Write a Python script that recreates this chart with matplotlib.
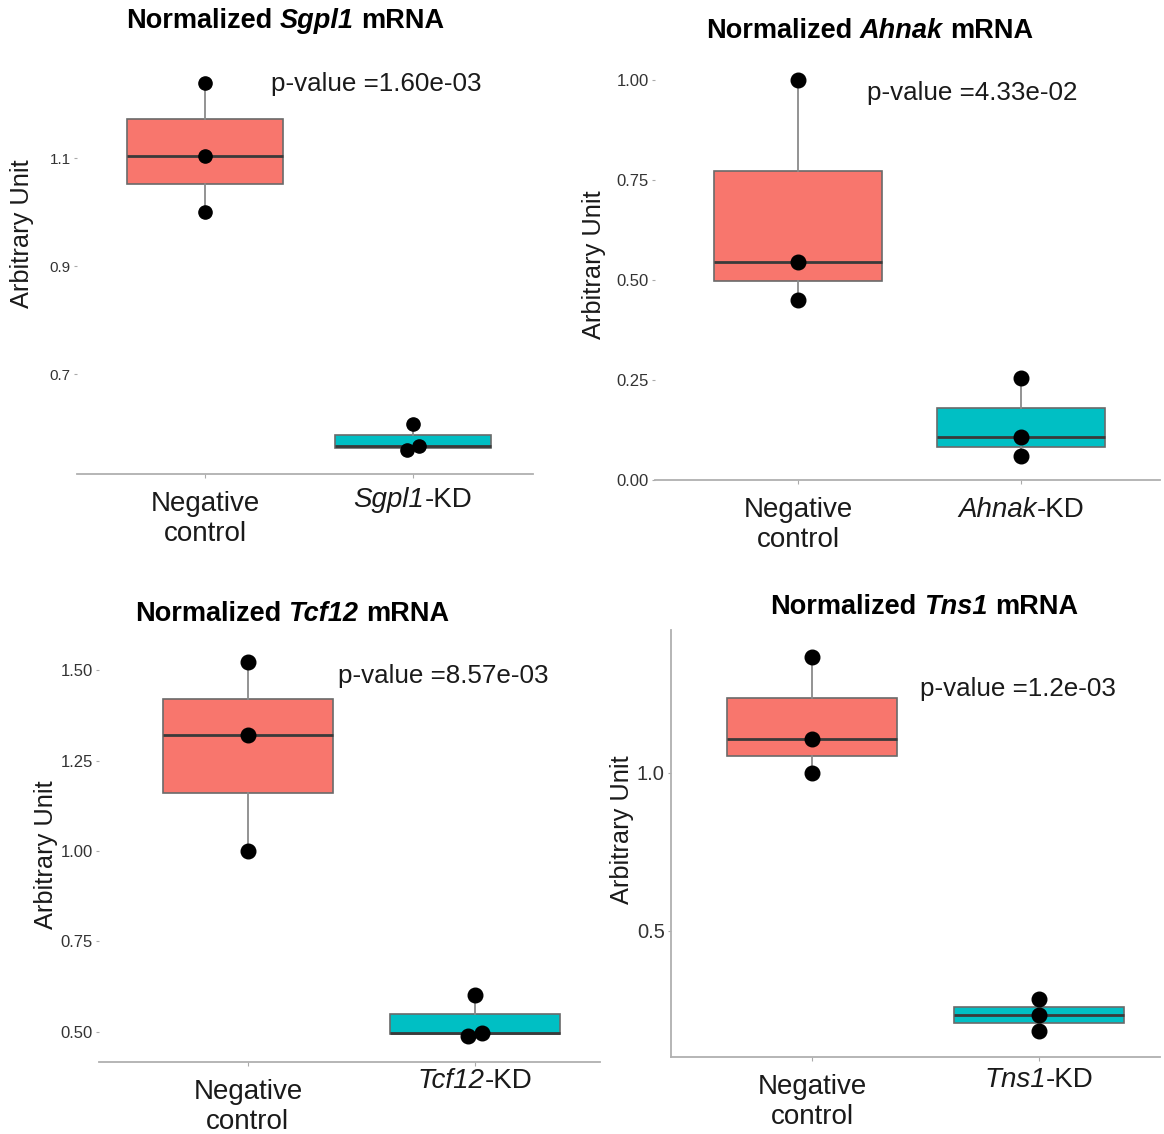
import matplotlib.pyplot as plt
import numpy as np

plt.rcParams['font.family'] = ['Liberation Sans', 'DejaVu Sans']

W, H = 1164, 1134

# data
genes = ['Sgpl1', 'Ahnak', 'Tcf12', 'Tns1']
p_values = ['1.60e-03', '4.33e-02', '8.57e-03', '1.2e-03']
control_vals = [[1.0, 1.105, 1.24],
                [0.45, 0.545, 1.0],
                [1.0, 1.32, 1.522],
                [1.0, 1.108, 1.367]]
kd_vals = [[0.560, 0.567, 0.607],
           [0.06, 0.1075, 0.255],
           [0.488, 0.498, 0.602],
           [0.184, 0.234, 0.285]]
y_ticks = [[0.7, 0.9, 1.1],
           [0.0, 0.25, 0.5, 0.75, 1.0],
           [0.5, 0.75, 1.0, 1.25, 1.5],
           [0.5, 1.0]]
y_ticklabels = [['0.7', '0.9', '1.1'],
                ['0.00', '0.25', '0.50', '0.75', '1.00'],
                ['0.50', '0.75', '1.00', '1.25', '1.50'],
                ['0.5', '1.0']]

# layout (pixels): left, top, right, bottom
boxes_px = [(77, 60, 533, 474), (655, 60, 1160, 480),
            (99, 640, 600, 1062), (671, 630, 1160, 1057)]
ylims = [(0.515, 1.282), (0.0, 1.05), (0.417, 1.583), (0.101, 1.452)]
xlims = [(0.385, 2.577), (0.359, 2.623), (0.344, 2.551), (0.379, 2.533)]
title_pos = [(285, 21), (870, 31), (292, 614), (924, 607)]
pval_pos = [(271, 84), (867, 93), (338, 676), (920, 689)]
ylab_pos = [(22, 234), (594, 265), (46, 855), (622, 830)]
kd_label_y = [500, 510, 1081, 1080]
ytick_size = [11, 12, 12, 14.5]
dot_size = [9.5, 10.5, 10.5, 10.5]
show_yaxis = [False, False, False, True]

red = '#F8766D'
cyan = '#00BFC4'


def spread(vals, width):
    # nudge points that sit on top of each other sideways
    vals = np.asarray(vals)
    off = np.zeros(len(vals))
    for i in range(len(vals)):
        for j in range(i + 1, len(vals)):
            if abs(vals[i] - vals[j]) < width:
                off[i] -= 0.03
                off[j] += 0.03
    return off


fig = plt.figure(figsize=(W / 100, H / 100), dpi=100)
renderer = fig.canvas.get_renderer()


def text_w(s, size, style, weight):
    t = fig.text(0, 0, s, fontsize=size, fontstyle=style, fontweight=weight)
    w = t.get_window_extent(renderer).width
    t.remove()
    return w


def rich_text(x, y, parts, size, weight='normal', color='black'):
    # parts: (string, style, space_after); centred on pixel x, y from top
    space = text_w('x x', size, 'normal', weight) - text_w('xx', size, 'normal', weight)
    widths = [text_w(s, size, st, weight) + (space if sp else 0) for s, st, sp in parts]
    x0 = x - sum(widths) / 2
    for (s, st, sp), w in zip(parts, widths):
        fig.text(x0 / W, 1 - y / H, s, fontsize=size, fontstyle=st,
                 fontweight=weight, color=color, ha='left', va='center')
        x0 += w


for k in range(4):
    l, t, r, b = boxes_px[k]
    ax = fig.add_axes([l / W, 1 - b / H, (r - l) / W, (b - t) / H])
    data = [control_vals[k], kd_vals[k]]
    bp = ax.boxplot(data, positions=[1, 2], widths=0.75, whis=(0, 100),
                    patch_artist=True, showfliers=False, showcaps=False,
                    medianprops=dict(color='#3a3a3a', linewidth=2),
                    whiskerprops=dict(color='#8a8a8a', linewidth=1.3),
                    boxprops=dict(edgecolor='#6a6a6a', linewidth=1.2))
    for patch, c in zip(bp['boxes'], [red, cyan]):
        patch.set_facecolor(c)
    yr = ylims[k][1] - ylims[k][0]
    for pos, vals in zip([1, 2], data):
        off = spread(vals, yr * 0.02)
        ax.plot(np.full(len(vals), pos) + off, vals, 'o', color='black',
                markersize=dot_size[k], zorder=5)

    ax.set_xlim(*xlims[k])
    ax.set_ylim(*ylims[k])
    ax.set_yticks(y_ticks[k])
    ax.set_yticklabels(y_ticklabels[k], fontsize=ytick_size[k], color='#333333')
    ax.set_xticks([1, 2])
    ax.set_xticklabels(['Negative\ncontrol', ''], fontsize=20, color='#1a1a1a')
    ax.tick_params(axis='x', length=3, color='#aaaaaa', pad=9)
    ax.tick_params(axis='y', length=2.5, color='#aaaaaa', pad=2)
    for s in ['top', 'right']:
        ax.spines[s].set_visible(False)
    ax.spines['bottom'].set_color('#b0b0b0')
    ax.spines['bottom'].set_linewidth(1.3)
    if show_yaxis[k]:
        ax.spines['left'].set_color('#b0b0b0')
        ax.spines['left'].set_linewidth(1.3)
    else:
        ax.spines['left'].set_visible(False)

    # KD label with italic gene name, under the second tick
    kx = ax.transData.transform((2, ylims[k][0]))[0]
    rich_text(kx, kd_label_y[k], [(genes[k], 'italic', False), ('-KD', 'normal', False)],
              20, color='#1a1a1a')

    tx, ty = title_pos[k]
    rich_text(tx, ty, [('Normalized', 'normal', True), (genes[k], 'italic', True),
                       ('mRNA', 'normal', False)], 19.5, weight='bold')
    px, py = pval_pos[k]
    fig.text(px / W, 1 - py / H, 'p-value =' + p_values[k],
             fontsize=18.7, ha='left', va='center', color='#1a1a1a')
    lx, ly = ylab_pos[k]
    fig.text(lx / W, 1 - ly / H, 'Arbitrary Unit', fontsize=18.3, rotation=90,
             ha='center', va='center', color='#1a1a1a')

fig.savefig('out.png', dpi=100, facecolor='white')
